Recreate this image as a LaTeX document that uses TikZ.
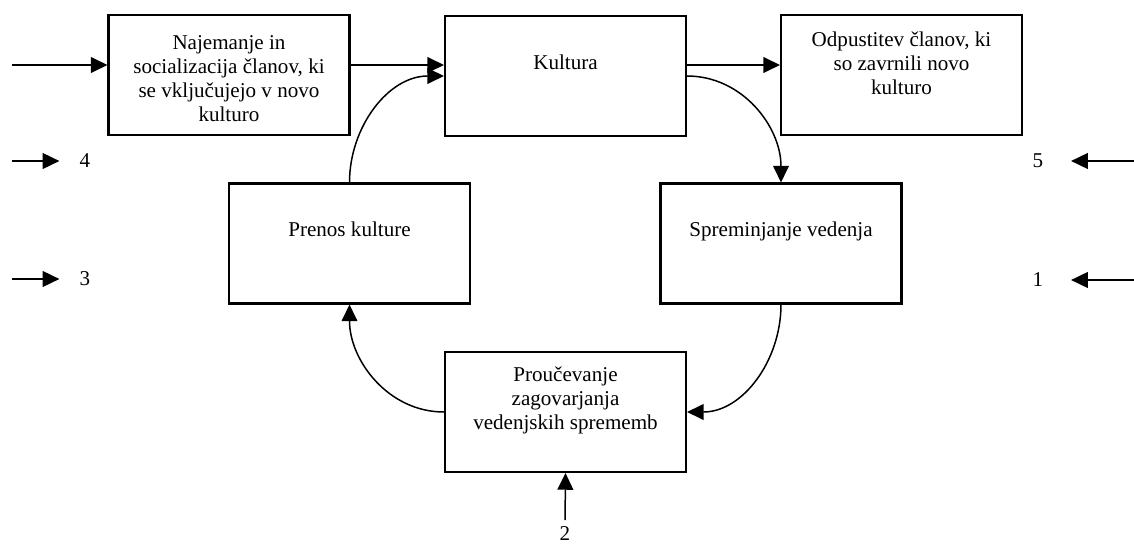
\documentclass[tikz,border=0pt]{standalone}
\usepackage{fontspec}
\setmainfont{Liberation Serif}
\usepackage{xcolor}
\usepackage{tikz}
\usetikzlibrary{arrows.meta,positioning}
\definecolor{boxline}{RGB}{0,0,0}

\begin{document}
\begin{tikzpicture}[x=0.02cm,y=-0.02cm,
    box/.style={draw=boxline, line width=1.2pt, minimum width=4.82cm, minimum height=2.4cm, inner sep=0pt},
    txt/.style={align=center, inner sep=0pt, font=\fontsize{12}{13.6}\selectfont},
    num/.style={inner sep=0pt, font=\fontsize{12}{13.6}\selectfont},
    arr/.style={line width=0.85pt, -{Triangle[length=9.5pt,width=9pt]}}]
            \useasboundingbox (0,0) rectangle (1134,548);

            % Boxes
            \node[box] (najem) at (229,75) {};
            \node[box] (kultura) at (565.5,76) {};
            \node[box] (odpust) at (901.5,75) {};
            \node[box] (prenos) at (349.5,243.5) {};
            \node[box] (sprem) at (781,243.5) {};
            \node[box] (prouc) at (565.5,412) {};

            % Box texts
            \node[txt, below=0.43cm of najem.north] (najem-t) {Najemanje in\\socializacija članov, ki\\se vključujejo v novo\\kulturo};
            \node[txt, below=0.8cm of kultura.north] (kultura-t) {Kultura};
            \node[txt, below=0.35cm of odpust.north] (odpust-t) {Odpustitev članov, ki\\so zavrnili novo\\kulturo};
            \node[txt, below=0.78cm of prenos.north] (prenos-t) {Prenos kulture};
            \node[txt, below=0.78cm of sprem.north] (sprem-t) {Spreminjanje vedenja};
            \node[txt, below=0.32cm of prouc.north] (prouc-t) {Proučevanje\\zagovarjanja\\vedenjskih sprememb};

            % Top row arrows
            \coordinate (in0) at (12,65);
            \draw[arr] (in0) -- (najem.west |- in0);
            \draw[arr] (najem.east |- in0) -- (kultura.west |- in0);
            \draw[arr] (kultura.east |- in0) -- (odpust.west |- in0);

            % Cycle
            \draw[arr] (prenos.north) to[out=90,in=180] (kultura.west);
            \draw[arr] (kultura.east) to[out=0,in=90] (sprem.north);
            \draw[arr] (sprem.south) to[out=-90,in=0] (prouc.east);
            \draw[arr] (prouc.west) to[out=180,in=-90] (prenos.south);

            % Numbered inputs
            \node[num] (n4) at (85,161) {4};
            \node[num] (n3) at (85,279) {3};
            \node[num] (n5) at (1038,161) {5};
            \node[num] (n1) at (1038,280) {1};
            \node[num, anchor=north] (n2) at (565,526) {2};
            \coordinate (in4) at (12,161);
            \coordinate (in3) at (12,279);
            \coordinate (in5) at (1134,161);
            \coordinate (in1) at (1134,280);
            \draw[arr, shorten >=0.4cm] (in4) -- (n4);
            \draw[arr, shorten >=0.4cm] (in3) -- (n3);
            \draw[arr, shorten >=0.55cm] (in5) -- (n5);
            \draw[arr, shorten >=0.55cm] (in1) -- (n1);
            \draw[arr, shorten <=0.12cm] (n2.north) -- (prouc.south);
        \end{tikzpicture}
\end{document}
